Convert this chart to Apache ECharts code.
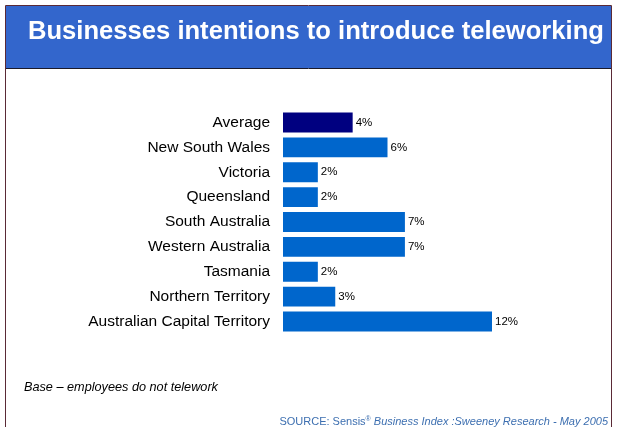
<!DOCTYPE html>
<html>
<head>
<meta charset="utf-8">
<script src="https://cdn.jsdelivr.net/npm/echarts@6/dist/echarts.min.js"></script>
<style>
  html, body { margin: 0; padding: 0; background: #fff; }
  #chart { width: 618px; height: 427px; }
</style>
</head>
<body>
<div id="chart"></div>
<script>
// Regions, top to bottom
const regions = [
  'Average',
  'New South Wales',
  'Victoria',
  'Queensland',
  'South Australia',
  'Western Australia',
  'Tasmania',
  'Northern Territory',
  'Australian Capital Territory'
];
// Share of businesses intending to introduce teleworking (%)
const intentions = [4, 6, 2, 2, 7, 7, 2, 3, 12];

const chart = echarts.init(document.getElementById('chart'));

const FONT = 'Liberation Sans, Arial, sans-serif';

chart.setOption({
  animation: false,
  backgroundColor: '#ffffff',
  graphic: [
    // page frame
    { type: 'rect', shape: { x: 5.5, y: 5.5, width: 606, height: 430 },
      style: { fill: 'none', stroke: '#5a2a36', lineWidth: 1 }, z: 10 },
    // title band
    { type: 'rect', shape: { x: 6, y: 6, width: 605, height: 62 },
      style: { fill: '#3366cc' }, z: 1 },
    { type: 'line', shape: { x1: 5, y1: 68.5, x2: 612, y2: 68.5 },
      style: { stroke: '#1a1a2a', lineWidth: 1 }, z: 2 },
    { type: 'text', left: 28, top: 19, z: 3,
      style: { text: 'Businesses intentions to introduce teleworking',
        fill: '#ffffff', font: 'bold 25.6px ' + FONT } },
    // footnotes
    { type: 'text', left: 24, top: 381, z: 3,
      style: { text: 'Base \u2013 employees do not telework',
        fill: '#000000', font: 'italic 12.7px ' + FONT } },
    { type: 'text', right: 10, top: 416, z: 3,
      style: {
        text: '{n|SOURCE: Sensis}{s|\u00ae}{i| Business Index :Sweeney Research - May 2005}',
        rich: {
          n: { fill: '#3d6fb0', font: '11px ' + FONT },
          s: { fill: '#3d6fb0', font: '7px ' + FONT, verticalAlign: 'top' },
          i: { fill: '#3d6fb0', font: 'italic 11px ' + FONT }
        }
      } }
  ],
  grid: { left: 283, right: 126, top: 110, height: 224, containLabel: false },
  xAxis: {
    type: 'value', min: 0, max: 12, show: false
  },
  yAxis: {
    type: 'category',
    data: regions,
    inverse: true,
    axisLine: { show: false },
    axisTick: { show: false },
    axisLabel: { color: '#000000', fontSize: 15.5, fontFamily: FONT, margin: 13 }
  },
  series: [{
    type: 'bar',
    data: intentions.map((v, i) => ({
      value: v,
      itemStyle: { color: i === 0 ? '#000080' : '#0066cc' }
    })),
    barCategoryGap: '20%',
    label: {
      show: true, position: 'right', distance: 3,
      formatter: p => p.value + '%',
      color: '#000000', fontSize: 11.5, fontFamily: FONT
    }
  }]
});
</script>
</body>
</html>
